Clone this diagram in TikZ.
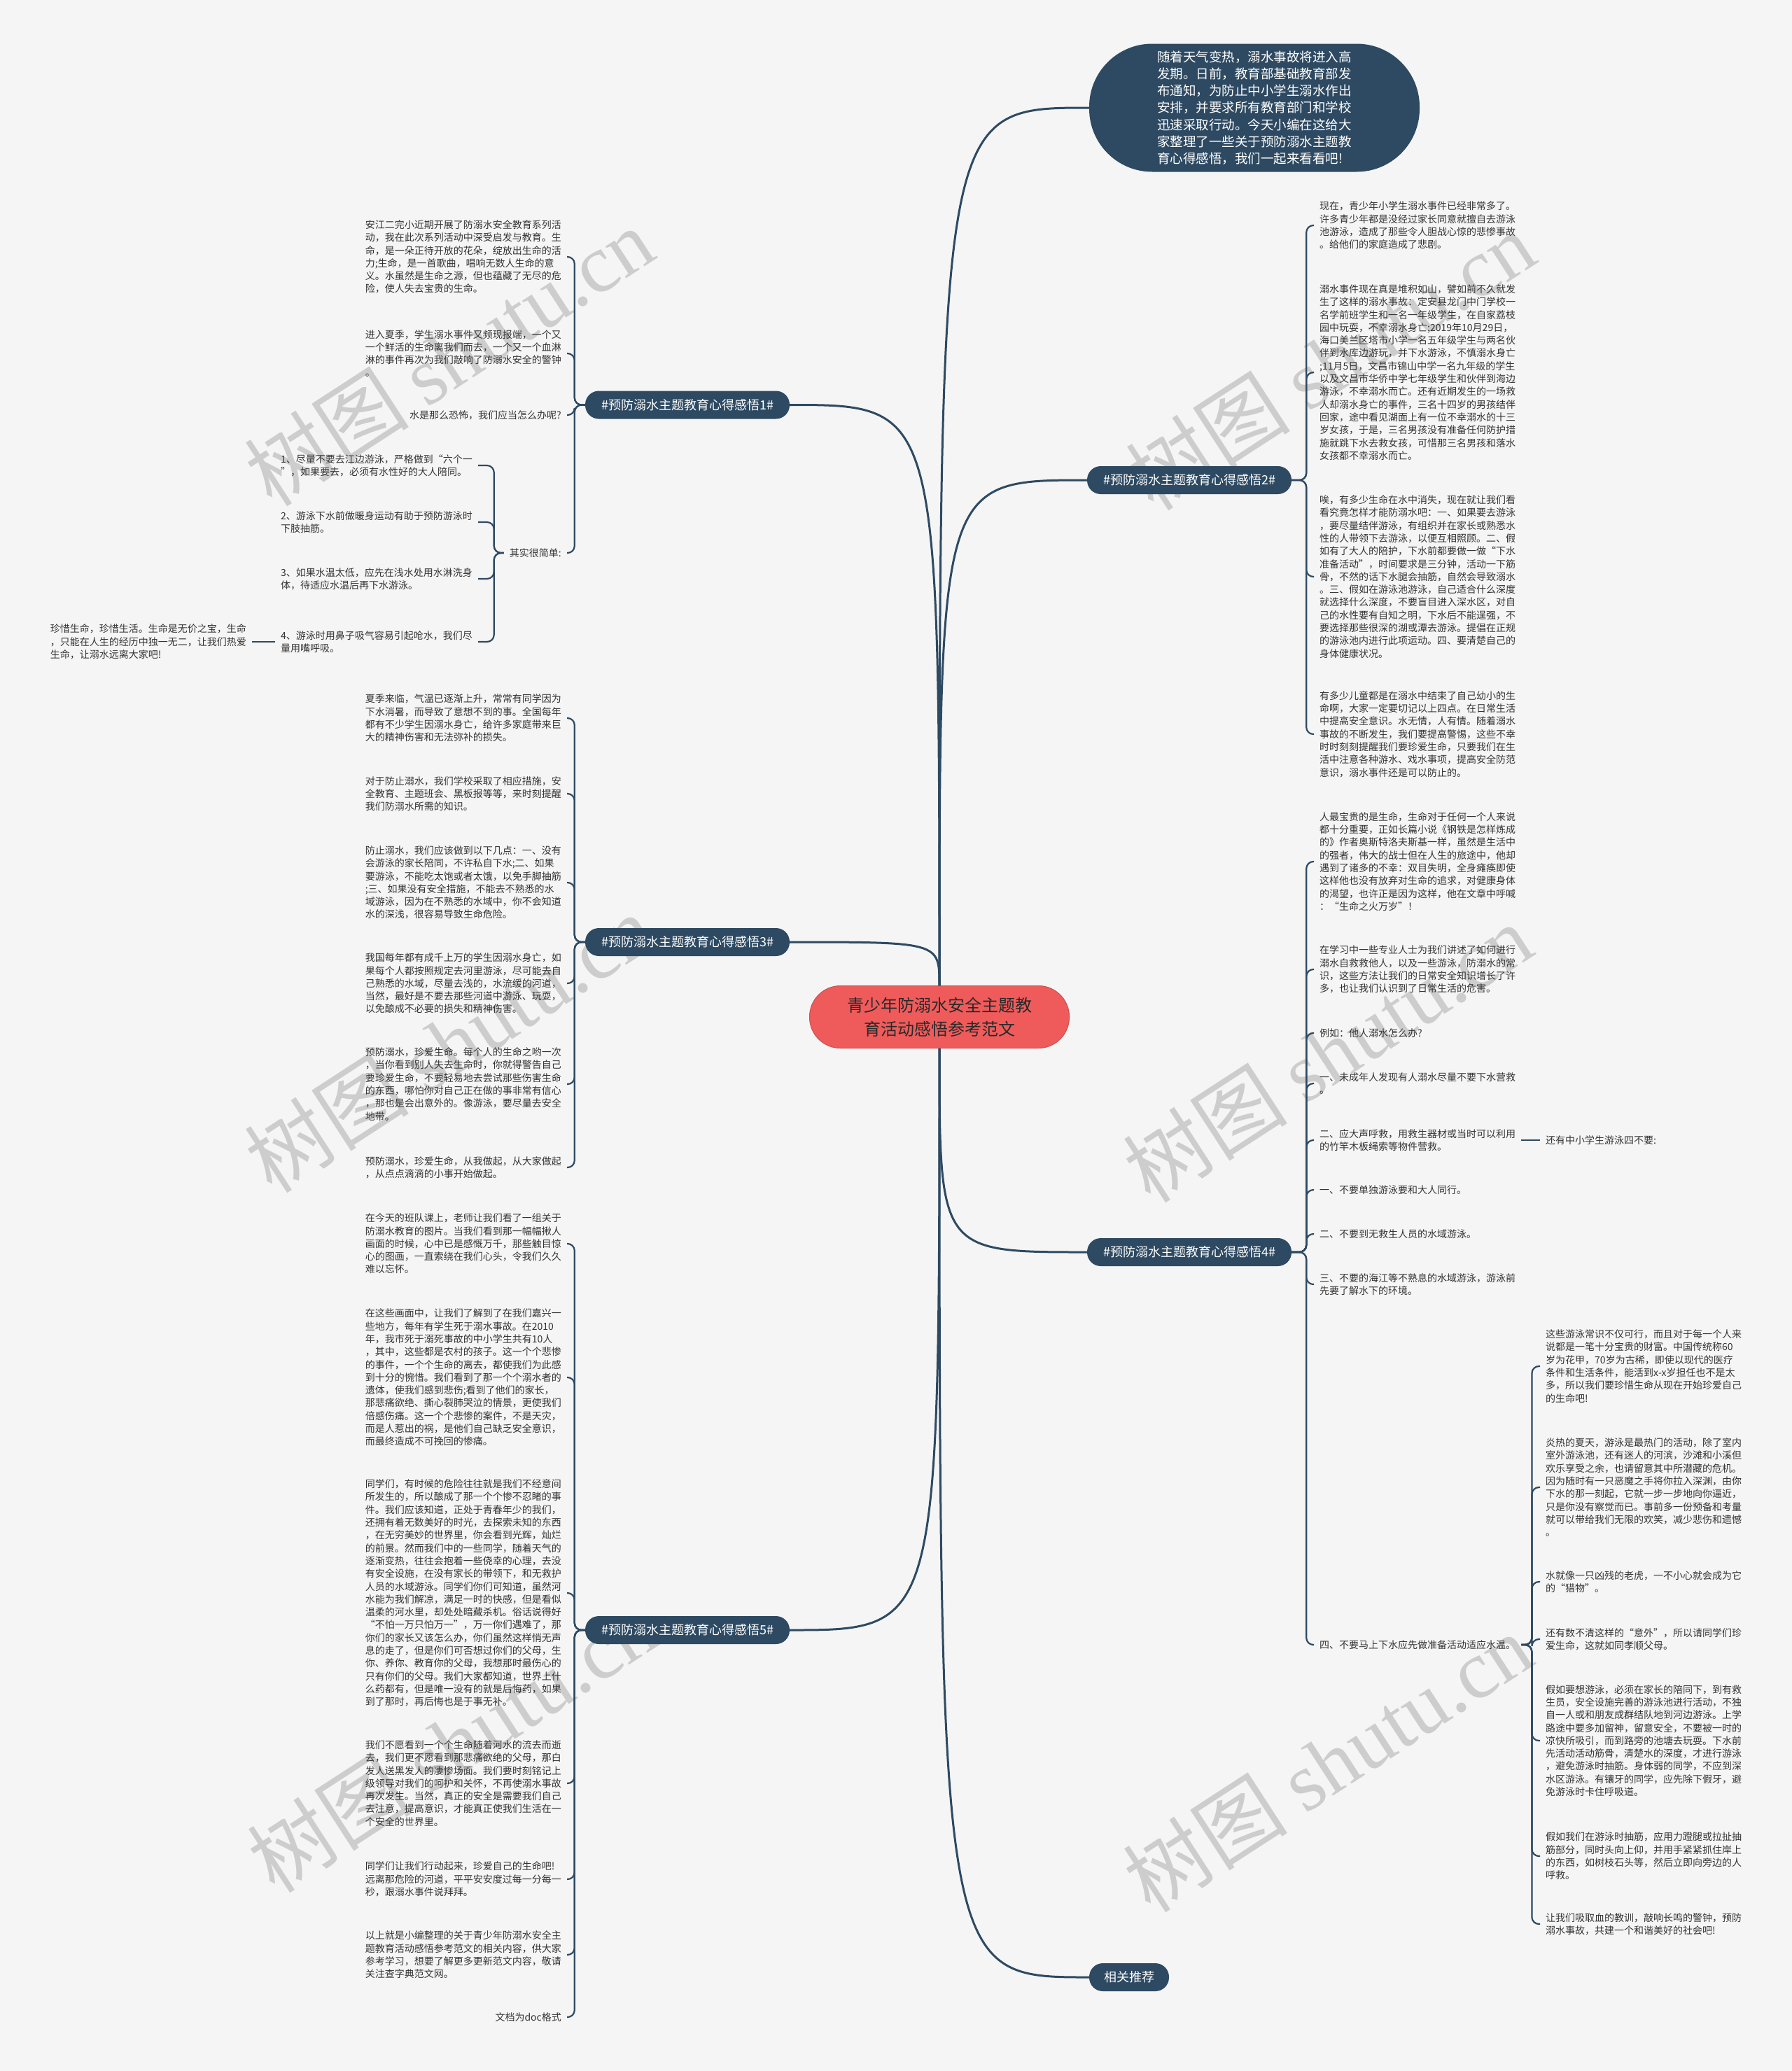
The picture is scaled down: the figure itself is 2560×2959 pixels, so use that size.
\documentclass[tikz,border=0pt]{standalone}
\usepackage{fontspec}
\setmainfont{Noto Sans CJK SC}
\newfontfamily\wmlatin{Liberation Serif}
\usetikzlibrary{calc}
\definecolor{navy}{HTML}{2E4A62}
\definecolor{bgc}{HTML}{F5F5F5}
\definecolor{rootred}{HTML}{EF5B5B}
\definecolor{txt}{HTML}{333333}
\begin{document}
\begin{tikzpicture}[x=1pt,y=-1pt,
  leafL/.style={anchor=east, align=left, inner xsep=8pt, inner ysep=0pt, text=txt, font=\fontsize{14}{18.3}\selectfont},
  leafR/.style={anchor=west, align=left, inner xsep=8pt, inner ysep=0pt, text=txt, font=\fontsize{14}{18.3}\selectfont},
  branchbox/.style={fill=navy, text=white, rounded corners=19.5pt, minimum height=40pt, minimum width=292pt, inner xsep=20pt, font=\fontsize{18}{22}\selectfont},
  rootbox/.style={fill=rootred, draw=rootred!85!black, line width=1pt, rounded corners=44pt, minimum width=371pt, minimum height=89pt, align=center, text=txt!80!black, font=\fontsize{24}{34}\selectfont},
  introbox/.style={fill=navy, text=white, rounded corners=90pt, minimum width=472pt, minimum height=183pt, align=left, font=\fontsize{18.5}{24.2}\selectfont},
  mainline/.style={draw=navy, line width=3pt},
  leafline/.style={draw=navy, line width=2.2pt, rounded corners=10pt},
  wmark/.style={rotate=33, text=black, opacity=0.16, font=\fontsize{118}{120}\selectfont}
]
\fill[bgc] (0,0) rectangle (2560,2959);
\useasboundingbox (0,0) rectangle (2560,2959);

% watermarks
\foreach \wx/\wy in {641/509,1900/515,641/1490,1896/1504,645/2490,1896/2518}
  \node[wmark] at (\wx,\wy) {树图 {\wmlatin shutu.cn}};

% root and main nodes
\node[rootbox] (root) at (1342,1453) {青少年防溺水安全主题教\\育活动感悟参考范文};
\node[introbox] (intro) at (1792,154) {随着天气变热，溺水事故将进入高\\发期。日前，教育部基础教育部发\\布通知，为防止中小学生溺水作出\\安排，并要求所有教育部门和学校\\迅速采取行动。今天小编在这给大\\家整理了一些关于预防溺水主题教\\育心得感悟，我们一起来看看吧!};
\node[branchbox] (b1) at (982,578.5) {\#预防溺水主题教育心得感悟1\#};
\node[branchbox] (b2) at (1699,686) {\#预防溺水主题教育心得感悟2\#};
\node[branchbox] (b3) at (982,1346) {\#预防溺水主题教育心得感悟3\#};
\node[branchbox] (b4) at (1699,1789) {\#预防溺水主题教育心得感悟4\#};
\node[branchbox] (b5) at (982,2329) {\#预防溺水主题教育心得感悟5\#};
\node[branchbox, minimum width=0pt, inner xsep=21pt] (rec) at (1613,2825) {相关推荐};

\draw[mainline] (root.north) .. controls (root.north |- intro.west) .. (intro.west);
\draw[mainline] (root.north) .. controls (root.north |- b2.west) .. (b2.west);
\draw[mainline] (root.north) .. controls (root.north |- b1.east) .. (b1.east);
\draw[mainline] (root.north) .. controls (root.north |- b3.east) .. (b3.east);
\draw[mainline] (root.south) .. controls (root.south |- b4.west) .. (b4.west);
\draw[mainline] (root.south) .. controls (root.south |- b5.east) .. (b5.east);
\draw[mainline] (root.south) .. controls (root.south |- rec.west) .. (rec.west);

% ---------------- branch 1
\node[leafL] (a1) at (810,367) {安江二完小近期开展了防溺水安全教育系列活\\动，我在此次系列活动中深受启发与教育。生\\命，是一朵正待开放的花朵，绽放出生命的活\\力;生命，是一首歌曲，唱响无数人生命的意\\义。水虽然是生命之源，但也蕴藏了无尽的危\\险，使人失去宝贵的生命。};
\node[leafL] (a2) at (810,505) {进入夏季，学生溺水事件又频现报端，一个又\\一个鲜活的生命离我们而去，一个又一个血淋\\淋的事件再次为我们敲响了防溺水安全的警钟\\。};
\node[leafL] (a3) at (810,593) {水是那么恐怖，我们应当怎么办呢?};
\node[leafL] (a4) at (810,790) {其实很简单:};
\coordinate (s1) at ($(b1.west)+(-15,0)$);
\foreach \n in {a1,a2,a3,a4}
  \draw[leafline] (b1.west) -- (s1) |- (\n.east);

\node[leafL] (d1) at (683,665) {1、尽量不要去江边游泳，严格做到“六个一\\”，如果要去，必须有水性好的大人陪同。};
\node[leafL] (d2) at (683,746) {2、游泳下水前做暖身运动有助于预防游泳时\\下肢抽筋。};
\node[leafL] (d3) at (683,827) {3、如果水温太低，应先在浅水处用水淋洗身\\体，待适应水温后再下水游泳。};
\node[leafL] (d4) at (683,917) {4、游泳时用鼻子吸气容易引起呛水，我们尽\\量用嘴呼吸。};
\coordinate (sq) at ($(a4.west)+(-14,0)$);
\foreach \n in {d1,d2,d3,d4}
  \draw[leafline] (a4.west) -- (sq) |- (\n.east);
\node[leafL] (e1) at (360,917) {珍惜生命，珍惜生活。生命是无价之宝，生命\\，只能在人生的经历中独一无二，让我们热爱\\生命，让溺水远离大家吧!};
\draw[leafline] (d4.west) -- (e1.east);

% ---------------- branch 3
\node[leafL] (c1) at (810,1026) {夏季来临，气温已逐渐上升，常常有同学因为\\下水消暑，而导致了意想不到的事。全国每年\\都有不少学生因溺水身亡，给许多家庭带来巨\\大的精神伤害和无法弥补的损失。};
\node[leafL] (c2) at (810,1134) {对于防止溺水，我们学校采取了相应措施，安\\全教育、主题班会、黑板报等等，来时刻提醒\\我们防溺水所需的知识。};
\node[leafL] (c3) at (810,1261) {防止溺水，我们应该做到以下几点：一、没有\\会游泳的家长陪同，不许私自下水;二、如果\\要游泳，不能吃太饱或者太饿，以免手脚抽筋\\;三、如果没有安全措施，不能去不熟悉的水\\域游泳，因为在不熟悉的水域中，你不会知道\\水的深浅，很容易导致生命危险。};
\node[leafL] (c4) at (810,1405) {我国每年都有成千上万的学生因溺水身亡，如\\果每个人都按照规定去河里游泳，尽可能去自\\己熟悉的水域，尽量去浅的，水流缓的河道，\\当然，最好是不要去那些河道中游泳、玩耍，\\以免酿成不必要的损失和精神伤害。};
\node[leafL] (c5) at (810,1549) {预防溺水，珍爱生命。每个人的生命之哟一次\\，当你看到别人失去生命时，你就得警告自己\\要珍爱生命，不要轻易地去尝试那些伤害生命\\的东西，哪怕你对自己正在做的事非常有信心\\，那也是会出意外的。像游泳，要尽量去安全\\地带。};
\node[leafL] (c6) at (810,1668) {预防溺水，珍爱生命，从我做起，从大家做起\\，从点点滴滴的小事开始做起。};
\coordinate (s3) at ($(b3.west)+(-15,0)$);
\foreach \n in {c1,c2,c3,c4,c5,c6}
  \draw[leafline] (b3.west) -- (s3) |- (\n.east);

% ---------------- branch 5
\node[leafL] (f1) at (810,1777) {在今天的班队课上，老师让我们看了一组关于\\防溺水教育的图片。当我们看到那一幅幅揪人\\画面的时候，心中已是感慨万千，那些触目惊\\心的图画，一直索绕在我们心头，令我们久久\\难以忘怀。};
\node[leafL] (f2) at (810,1968) {在这些画面中，让我们了解到了在我们嘉兴一\\些地方，每年有学生死于溺水事故。在2010\\年，我市死于溺死事故的中小学生共有10人\\，其中，这些都是农村的孩子。这一个个悲惨\\的事件，一个个生命的离去，都使我们为此感\\到十分的惋惜。我们看到了那一个个溺水者的\\遗体，使我们感到悲伤;看到了他们的家长，\\那悲痛欲绝、撕心裂肺哭泣的情景，更使我们\\倍感伤痛。这一个个悲惨的案件，不是天灾，\\而是人惹出的祸，是他们自己缺乏安全意识，\\而最终造成不可挽回的惨痛。};
\node[leafL] (f3) at (810,2276) {同学们，有时候的危险往往就是我们不经意间\\所发生的，所以酿成了那一个个惨不忍睹的事\\件。我们应该知道，正处于青春年少的我们，\\还拥有着无数美好的时光，去探索未知的东西\\，在无穷美妙的世界里，你会看到光辉，灿烂\\的前景。然而我们中的一些同学，随着天气的\\逐渐变热，往往会抱着一些侥幸的心理，去没\\有安全设施，在没有家长的带领下，和无救护\\人员的水域游泳。同学们你们可知道，虽然河\\水能为我们解凉，满足一时的快感，但是看似\\温柔的河水里，却处处暗藏杀机。俗话说得好\\“不怕一万只怕万一”，万一你们遇难了，那\\你们的家长又该怎么办，你们虽然这样悄无声\\息的走了，但是你们可否想过你们的父母，生\\你、养你、教育你的父母，我想那时最伤心的\\只有你们的父母。我们大家都知道，世界上什\\么药都有，但是唯一没有的就是后悔药，如果\\到了那时，再后悔也是于事无补。};
\node[leafL] (f4) at (810,2548) {我们不愿看到一个个生命随着河水的流去而逝\\去，我们更不愿看到那悲痛欲绝的父母，那白\\发人送黑发人的凄惨场面。我们要时刻铭记上\\级领导对我们的呵护和关怀，不再使溺水事故\\再次发生。当然，真正的安全是需要我们自己\\去注意，提高意识，才能真正使我们生活在一\\个安全的世界里。};
\node[leafL] (f5) at (810,2685) {同学们让我们行动起来，珍爱自己的生命吧!\\远离那危险的河道，平平安安度过每一分每一\\秒，跟溺水事件说拜拜。};
\node[leafL] (f6) at (810,2793) {以上就是小编整理的关于青少年防溺水安全主\\题教育活动感悟参考范文的相关内容，供大家\\参考学习，想要了解更多更新范文内容，敬请\\关注查字典范文网。};
\node[leafL] (f7) at (810,2882) {文档为doc格式};
\coordinate (s5) at ($(b5.west)+(-15,0)$);
\foreach \n in {f1,f2,f3,f4,f5,f6,f7}
  \draw[leafline] (b5.west) -- (s5) |- (\n.east);

% ---------------- branch 2
\node[leafR] (g1) at (1877,322) {现在，青少年小学生溺水事件已经非常多了。\\许多青少年都是没经过家长同意就擅自去游泳\\池游泳，造成了那些令人胆战心惊的悲惨事故\\。给他们的家庭造成了悲剧。};
\node[leafR] (g2) at (1877,532) {溺水事件现在真是堆积如山，譬如前不久就发\\生了这样的溺水事故：定安县龙门中门学校一\\名学前班学生和一名一年级学生，在自家荔枝\\园中玩耍，不幸溺水身亡;2019年10月29日，\\海口美兰区塔市小学一名五年级学生与两名伙\\伴到水库边游玩，并下水游泳，不慎溺水身亡\\;11月5日，文昌市锦山中学一名九年级的学生\\以及文昌市华侨中学七年级学生和伙伴到海边\\游泳，不幸溺水而亡。还有近期发生的一场救\\人却溺水身亡的事件，三名十四岁的男孩结伴\\回家，途中看见湖面上有一位不幸溺水的十三\\岁女孩，于是，三名男孩没有准备任何防护措\\施就跳下水去救女孩，可惜那三名男孩和落水\\女孩都不幸溺水而亡。};
\node[leafR] (g3) at (1877,824) {唉，有多少生命在水中消失，现在就让我们看\\看究竟怎样才能防溺水吧：一、如果要去游泳\\，要尽量结伴游泳，有组织并在家长或熟悉水\\性的人带领下去游泳，以便互相照顾。二、假\\如有了大人的陪护，下水前都要做一做“下水\\准备活动”，时间要求是三分钟，活动一下筋\\骨，不然的话下水腿会抽筋，自然会导致溺水\\。三、假如在游泳池游泳，自己适合什么深度\\就选择什么深度，不要盲目进入深水区，对自\\己的水性要有自知之明，下水后不能逞强，不\\要选择那些很深的湖或潭去游泳。提倡在正规\\的游泳池内进行此项运动。四、要清楚自己的\\身体健康状况。};
\node[leafR] (g4) at (1877,1049) {有多少儿童都是在溺水中结束了自己幼小的生\\命啊，大家一定要切记以上四点。在日常生活\\中提高安全意识。水无情，人有情。随着溺水\\事故的不断发生，我们要提高警惕，这些不幸\\时时刻刻提醒我们要珍爱生命，只要我们在生\\活中注意各种游水、戏水事项，提高安全防范\\意识，溺水事件还是可以防止的。};
\coordinate (s2) at ($(b2.east)+(21,0)$);
\foreach \n in {g1,g2,g3,g4}
  \draw[leafline] (b2.east) -- (s2) |- (\n.west);

% ---------------- branch 4
\node[leafR] (h1) at (1877,1231) {人最宝贵的是生命，生命对于任何一个人来说\\都十分重要，正如长篇小说《钢铁是怎样炼成\\的》作者奥斯特洛夫斯基一样，虽然是生活中\\的强者，伟大的战士但在人生的旅途中，他却\\遇到了诸多的不幸：双目失明，全身瘫痪即使\\这样他也没有放弃对生命的追求，对健康身体\\的渴望，也许正是因为这样，他在文章中呼喊\\：“生命之火万岁”！};
\node[leafR] (h2) at (1877,1385) {在学习中一些专业人士为我们讲述了如何进行\\溺水自救救他人，以及一些游泳，防溺水的常\\识，这些方法让我们的日常安全知识增长了许\\多，也让我们认识到了日常生活的危害。};
\node[leafR] (h3) at (1877,1476) {例如：他人溺水怎么办?};
\node[leafR] (h4) at (1877,1548) {一、未成年人发现有人溺水尽量不要下水营救\\。};
\node[leafR] (h5) at (1877,1629) {二、应大声呼救，用救生器材或当时可以利用\\的竹竿木板绳索等物件营救。};
\node[leafR] (h6) at (1877,1700) {一、不要单独游泳要和大人同行。};
\node[leafR] (h7) at (1877,1763) {二、不要到无救生人员的水域游泳。};
\node[leafR] (h8) at (1877,1835) {三、不要的海江等不熟息的水域游泳，游泳前\\先要了解水下的环境。};
\node[leafR] (h9) at (1877,2350) {四、不要马上下水应先做准备活动适应水温。};
\coordinate (s4) at ($(b4.east)+(21,0)$);
\foreach \n in {h1,h2,h3,h4,h5,h6,h7,h8,h9}
  \draw[leafline] (b4.east) -- (s4) |- (\n.west);

\node[leafR] (hx) at (2200,1629) {还有中小学生游泳四不要:};
\draw[leafline] (h5.east) -- (hx.west);

\node[leafR] (k1) at (2200,1952) {这些游泳常识不仅可行，而且对于每一个人来\\说都是一笔十分宝贵的财富。中国传统称60\\岁为花甲，70岁为古稀，即使以现代的医疗\\条件和生活条件，能活到x-x岁担任也不是太\\多，所以我们要珍惜生命从现在开始珍爱自己\\的生命吧!};
\node[leafR] (k2) at (2200,2125) {炎热的夏天，游泳是最热门的活动，除了室内\\室外游泳池，还有迷人的河滨，沙滩和小溪但\\欢乐享受之余，也请留意其中所潜藏的危机。\\因为随时有一只恶魔之手将你拉入深渊，由你\\下水的那一刻起，它就一步一步地向你逼近，\\只是你没有察觉而已。事前多一份预备和考量\\就可以带给我们无限的欢笑，减少悲伤和遗憾\\。};
\node[leafR] (k3) at (2200,2260) {水就像一只凶残的老虎，一不小心就会成为它\\的“猎物”。};
\node[leafR] (k4) at (2200,2342) {还有数不清这样的“意外”，所以请同学们珍\\爱生命，这就如同孝顺父母。};
\node[leafR] (k5) at (2200,2487) {假如要想游泳，必须在家长的陪同下，到有救\\生员，安全设施完善的游泳池进行活动，不独\\自一人或和朋友成群结队地到河边游泳。上学\\路途中要多加留神，留意安全，不要被一时的\\凉快所吸引，而到路旁的池塘去玩耍。下水前\\先活动活动筋骨，清楚水的深度，才进行游泳\\，避免游泳时抽筋。身体弱的同学，不应到深\\水区游泳。有镶牙的同学，应先除下假牙，避\\免游泳时卡住呼吸道。};
\node[leafR] (k6) at (2200,2652) {假如我们在游泳时抽筋，应用力蹬腿或拉扯抽\\筋部分，同时头向上仰，并用手紧紧抓住岸上\\的东西，如树枝石头等，然后立即向旁边的人\\呼救。};
\node[leafR] (k7) at (2200,2749) {让我们吸取血的教训，敲响长鸣的警钟，预防\\溺水事故，共建一个和谐美好的社会吧!};
\coordinate (s9) at ($(h9.east)+(15,0)$);
\foreach \n in {k1,k2,k3,k4,k5,k6,k7}
  \draw[leafline] (h9.east) -- (s9) |- (\n.west);
\end{tikzpicture}
\end{document}
